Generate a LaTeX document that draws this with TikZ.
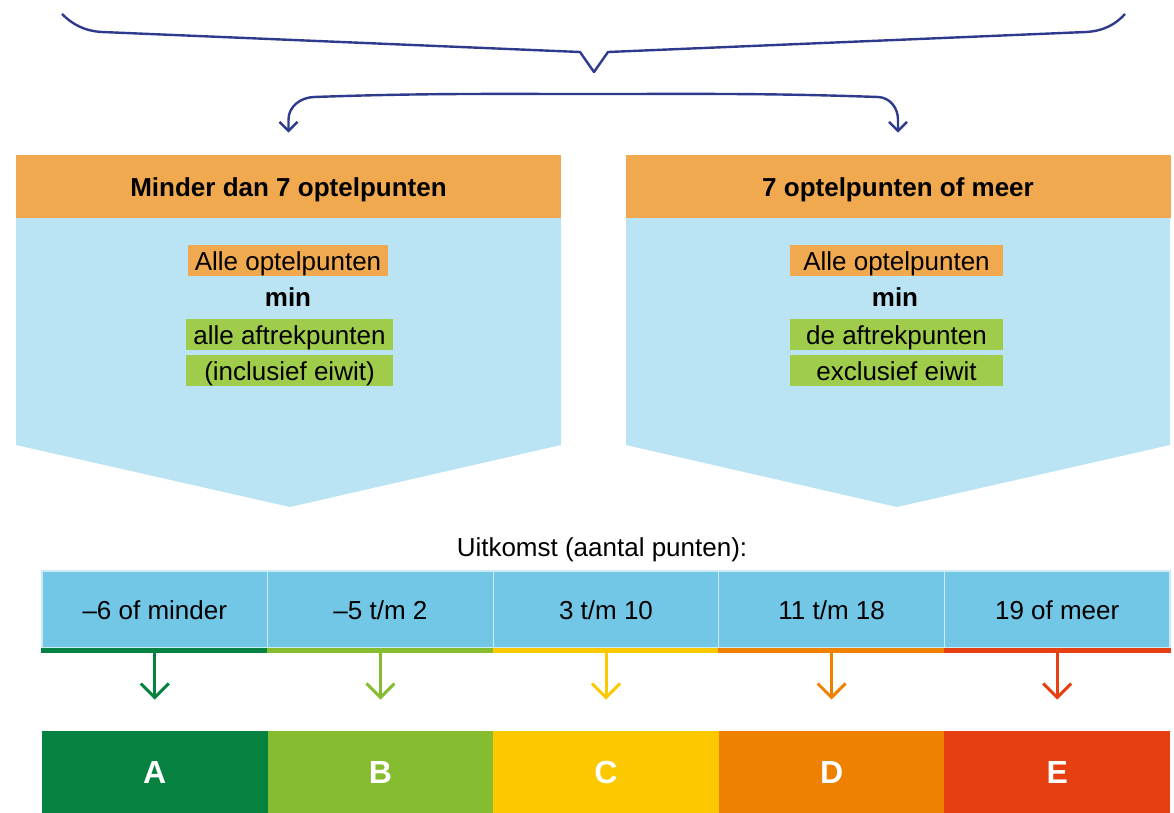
\documentclass[tikz,border=0pt]{standalone}
\usepackage{fontspec}
\setmainfont{Liberation Sans}
\usepackage{tikz}
\usetikzlibrary{arrows.meta, positioning}

\definecolor{navy}{RGB}{46,58,140}
\definecolor{headorange}{RGB}{240,169,79}
\definecolor{panelblue}{RGB}{186,227,243}
\definecolor{boxgreen}{RGB}{160,204,75}
\definecolor{cellblue}{RGB}{114,198,230}
\definecolor{cellline}{RGB}{205,235,247}
\definecolor{gA}{RGB}{5,130,63}
\definecolor{gB}{RGB}{134,188,47}
\definecolor{gC}{RGB}{252,200,0}
\definecolor{gD}{RGB}{238,129,0}
\definecolor{gE}{RGB}{229,63,18}

\tikzset{
  txt/.style={font=\fontsize{13}{15}\selectfont, inner sep=0pt, text height=12pt, text depth=2.2pt},
  header/.style={txt, font=\fontsize{13}{15}\selectfont\bfseries, fill=headorange,
    minimum width=272.5pt, minimum height=31.5pt},
  obox/.style={txt, fill=headorange, minimum height=15.5pt},
  gbox/.style={txt, fill=boxgreen, minimum height=15.5pt},
  cell/.style={txt, fill=cellblue, draw=cellline, line width=0.6pt,
    minimum width=112.8pt, minimum height=38.5pt},
  grade/.style={inner sep=0pt, text=white, font=\fontsize{16}{18}\selectfont\bfseries,
    minimum width=112.8pt, minimum height=41pt},
  bracket/.style={navy, line width=1.2pt, line join=round},
  splitarrow/.style={-{Straight Barb[length=4.5pt, width=9pt]}, shorten >=11pt},
  gradearrow/.style={line width=1.5pt, -{Straight Barb[length=7pt, width=14pt]}, shorten >=15.5pt}
}

\begin{document}
\begin{tikzpicture}[x=0.5pt, y=-0.5pt]
    \useasboundingbox (0,0) rectangle (1174,813);

    % brace over everything
    \draw[bracket] (62,14) .. controls (72,24) and (84,31) .. (102,32) -- (580,52) -- (594,72)
        -- (608,52) -- (1086,32) .. controls (1104,31) and (1116,24) .. (1125,14);
    \coordinate (split) at (594,94);

    % the two panels
    \fill[panelblue] (16,218) -- (561,218) -- (561,445) -- (290,507) -- (16,445) -- cycle;
    \fill[panelblue] (626,218) -- (1170,218) -- (1170,445) -- (897,507) -- (626,445) -- cycle;
    \node[header] (h1) at (288.5,186.5) {Minder dan 7 optelpunten};
    \node[header] (h2) at (898,186.5) {7 optelpunten of meer};

    \draw[bracket, splitarrow] (split) to[out=180, in=2] (314,97) to[out=182, in=90] ([yshift=17.5pt]h1.north) -- (h1.north);
    \draw[bracket, splitarrow] (split) to[out=0, in=178] (878,97) to[out=-2, in=90] ([yshift=17.5pt]h2.north) -- (h2.north);

    \node[obox, minimum width=100pt] (l1) at (288,260.5) {Alle optelpunten};
    \node[txt, font=\fontsize{13}{15}\selectfont\bfseries] (l2) at (288,297) {min};
    \node[gbox, minimum width=103.5pt] (l3) at (289.5,334.5) {alle aftrekpunten};
    \node[gbox, minimum width=103.5pt] (l4) at (289.5,370.5) {(inclusief eiwit)};

    \node[obox, minimum width=106.5pt] (r1) at (896.5,260.5) {Alle optelpunten};
    \node[txt, font=\fontsize{13}{15}\selectfont\bfseries] (r2) at (895,297) {min};
    \node[gbox, minimum width=106.5pt] (r3) at (896.5,334.5) {de aftrekpunten};
    \node[gbox, minimum width=106.5pt] (r4) at (896.5,370.5) {exclusief eiwit};

    % outcome scale
    \node[txt] (uitkomst) at (602,547) {Uitkomst (aantal punten):};

    \foreach \txt/\grade/\col [count=\n] in {{–6 of minder}/A/gA, {–5 t/m 2}/B/gB,
            {3 t/m 10}/C/gC, {11 t/m 18}/D/gD, {19 of meer}/E/gE} {
        \node[cell] (c\n) at ({42+225.6*(\n-0.5)},609.5) {\txt};
        \draw[line width=2.8pt, draw=\col] ([yshift=-1pt]c\n.south west) -- ([yshift=-1pt]c\n.south east);
        \node[grade, fill=\col] (g\n) at ({42+225.6*(\n-0.5)},772) {\grade};
        \draw[gradearrow, draw=\col] (c\n.south) -- (g\n.north);
    }
\end{tikzpicture}
\end{document}
